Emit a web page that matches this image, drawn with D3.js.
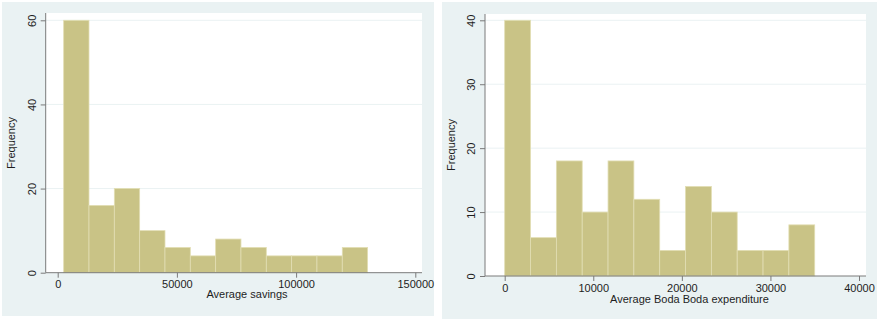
<!DOCTYPE html>
<html>
<head>
<meta charset="utf-8">
<script src="https://cdn.jsdelivr.net/npm/d3@7"></script>
<style>
  html, body { margin: 0; padding: 0; background: #ffffff; }
  svg { display: block; font-family: "Liberation Sans", Arial, Helvetica, sans-serif; }
</style>
</head>
<body>
<svg id="chart" width="881" height="323"></svg>
<script>
// Histogram of average savings
const savingsCounts = [60, 16, 20, 10, 6, 4, 8, 6, 4, 4, 4, 6];
const savingsBinStart = 2500;
const savingsBinWidth = 10625;
const savingsXTicks = [0, 50000, 100000, 150000];
const savingsYTicks = [0, 20, 40, 60];
const savingsTitle = "Average savings";

// Histogram of average Boda Boda expenditure
const bodaCounts = [40, 6, 18, 10, 18, 12, 4, 14, 10, 4, 4, 8];
const bodaBinStart = 0;
const bodaBinWidth = 35000 / 12;
const bodaXTicks = [0, 10000, 20000, 30000, 40000];
const bodaYTicks = [0, 10, 20, 30, 40];
const bodaTitle = "Average Boda Boda expenditure";

const yLabel = "Frequency";

const BG = "#eaf2f3";
const BAR_FILL = "#c9c386";
const BAR_EDGE = "#e2deb4";
const AXIS = "#7a7a7a";
const TEXT = "#1e1e1e";

const svg = d3.select("#chart");

function panel(cfg) {
  const g = svg.append("g");

  // outer graph region
  g.append("rect")
    .attr("x", cfg.outer[0]).attr("y", cfg.outer[1])
    .attr("width", cfg.outer[2] - cfg.outer[0])
    .attr("height", cfg.outer[3] - cfg.outer[1])
    .attr("fill", BG);

  // plot region
  g.append("rect")
    .attr("x", cfg.plot[0]).attr("y", cfg.plot[1])
    .attr("width", cfg.plot[2] - cfg.plot[0])
    .attr("height", cfg.plot[3] - cfg.plot[1])
    .attr("fill", "#ffffff");

  const x = d3.scaleLinear().domain(cfg.xDomain).range(cfg.xRange);
  const y = d3.scaleLinear().domain(cfg.yDomain).range(cfg.yRange);

  // horizontal grid lines
  g.append("g").selectAll("line")
    .data(cfg.yTicks.filter(d => d !== 0))
    .join("line")
    .attr("x1", cfg.plot[0]).attr("x2", cfg.plot[2])
    .attr("y1", d => y(d)).attr("y2", d => y(d))
    .attr("stroke", BG).attr("stroke-width", 1);

  // bars
  const bins = cfg.counts.map((c, i) => ({
    x0: cfg.binStart + i * cfg.binWidth,
    x1: cfg.binStart + (i + 1) * cfg.binWidth,
    n: c
  }));
  g.append("g").selectAll("rect")
    .data(bins)
    .join("rect")
    .attr("x", d => x(d.x0))
    .attr("width", d => x(d.x1) - x(d.x0))
    .attr("y", d => y(d.n))
    .attr("height", d => y(0) - y(d.n))
    .attr("fill", BAR_FILL)
    .attr("stroke", BAR_EDGE)
    .attr("stroke-width", 0.8);

  // axis lines spanning the plot region
  g.append("line")
    .attr("x1", cfg.plot[0]).attr("x2", cfg.plot[0])
    .attr("y1", cfg.plot[1]).attr("y2", cfg.plot[3])
    .attr("stroke", AXIS).attr("stroke-width", 1);
  g.append("line")
    .attr("x1", cfg.plot[0]).attr("x2", cfg.plot[2])
    .attr("y1", cfg.plot[3]).attr("y2", cfg.plot[3])
    .attr("stroke", AXIS).attr("stroke-width", 1);

  // y axis
  const yAxis = g.append("g")
    .attr("transform", `translate(${cfg.plot[0]},0)`)
    .call(d3.axisLeft(y).tickValues(cfg.yTicks).tickSize(5).tickSizeOuter(0).tickFormat(d3.format("d")));
  yAxis.select(".domain").remove();
  yAxis.selectAll(".tick line").attr("stroke", AXIS);
  yAxis.selectAll(".tick text")
    .attr("x", 0).attr("dy", 0)
    .attr("transform", "translate(-10,0) rotate(-90)")
    .attr("text-anchor", "middle")
    .attr("fill", TEXT)
    .style("font-size", "11px")
    .style("font-family", "'Liberation Sans', Arial, sans-serif");

  // x axis
  const xAxis = g.append("g")
    .attr("transform", `translate(0,${cfg.plot[3]})`)
    .call(d3.axisBottom(x).tickValues(cfg.xTicks).tickSize(5).tickSizeOuter(0).tickFormat(d3.format("d")));
  xAxis.select(".domain").remove();
  xAxis.selectAll(".tick line").attr("stroke", AXIS);
  xAxis.selectAll(".tick text")
    .attr("y", 0).attr("dy", 0)
    .attr("transform", "translate(0,15.5)")
    .attr("fill", TEXT)
    .style("font-size", "11px")
    .style("font-family", "'Liberation Sans', Arial, sans-serif");

  // axis titles
  g.append("text")
    .attr("x", cfg.xTitlePos[0]).attr("y", cfg.xTitlePos[1])
    .attr("text-anchor", "middle")
    .attr("fill", TEXT)
    .style("font-size", "11px")
    .text(cfg.xTitle);
  g.append("text")
    .attr("transform", `translate(${cfg.yTitlePos[0]},${cfg.yTitlePos[1]}) rotate(-90)`)
    .attr("text-anchor", "middle")
    .attr("fill", TEXT)
    .style("font-size", "11px")
    .text(yLabel);
}

panel({
  outer: [2, 2, 434, 316],
  plot: [45.7, 13, 422, 272.7],
  xDomain: [0, 150000], xRange: [57.7, 415.3],
  yDomain: [0, 60], yRange: [272.7, 20.3],
  counts: savingsCounts, binStart: savingsBinStart, binWidth: savingsBinWidth,
  xTicks: savingsXTicks, yTicks: savingsYTicks,
  xTitle: savingsTitle, xTitlePos: [247, 298],
  yTitlePos: [15, 143]
});

panel({
  outer: [442, 2, 877, 319],
  plot: [485, 14, 866, 276],
  xDomain: [0, 40000], xRange: [504.7, 859],
  yDomain: [0, 40], yRange: [276, 20.3],
  counts: bodaCounts, binStart: bodaBinStart, binWidth: bodaBinWidth,
  xTicks: bodaXTicks, yTicks: bodaYTicks,
  xTitle: bodaTitle, xTitlePos: [689.5, 302.5],
  yTitlePos: [455, 145]
});
</script>
</body>
</html>
